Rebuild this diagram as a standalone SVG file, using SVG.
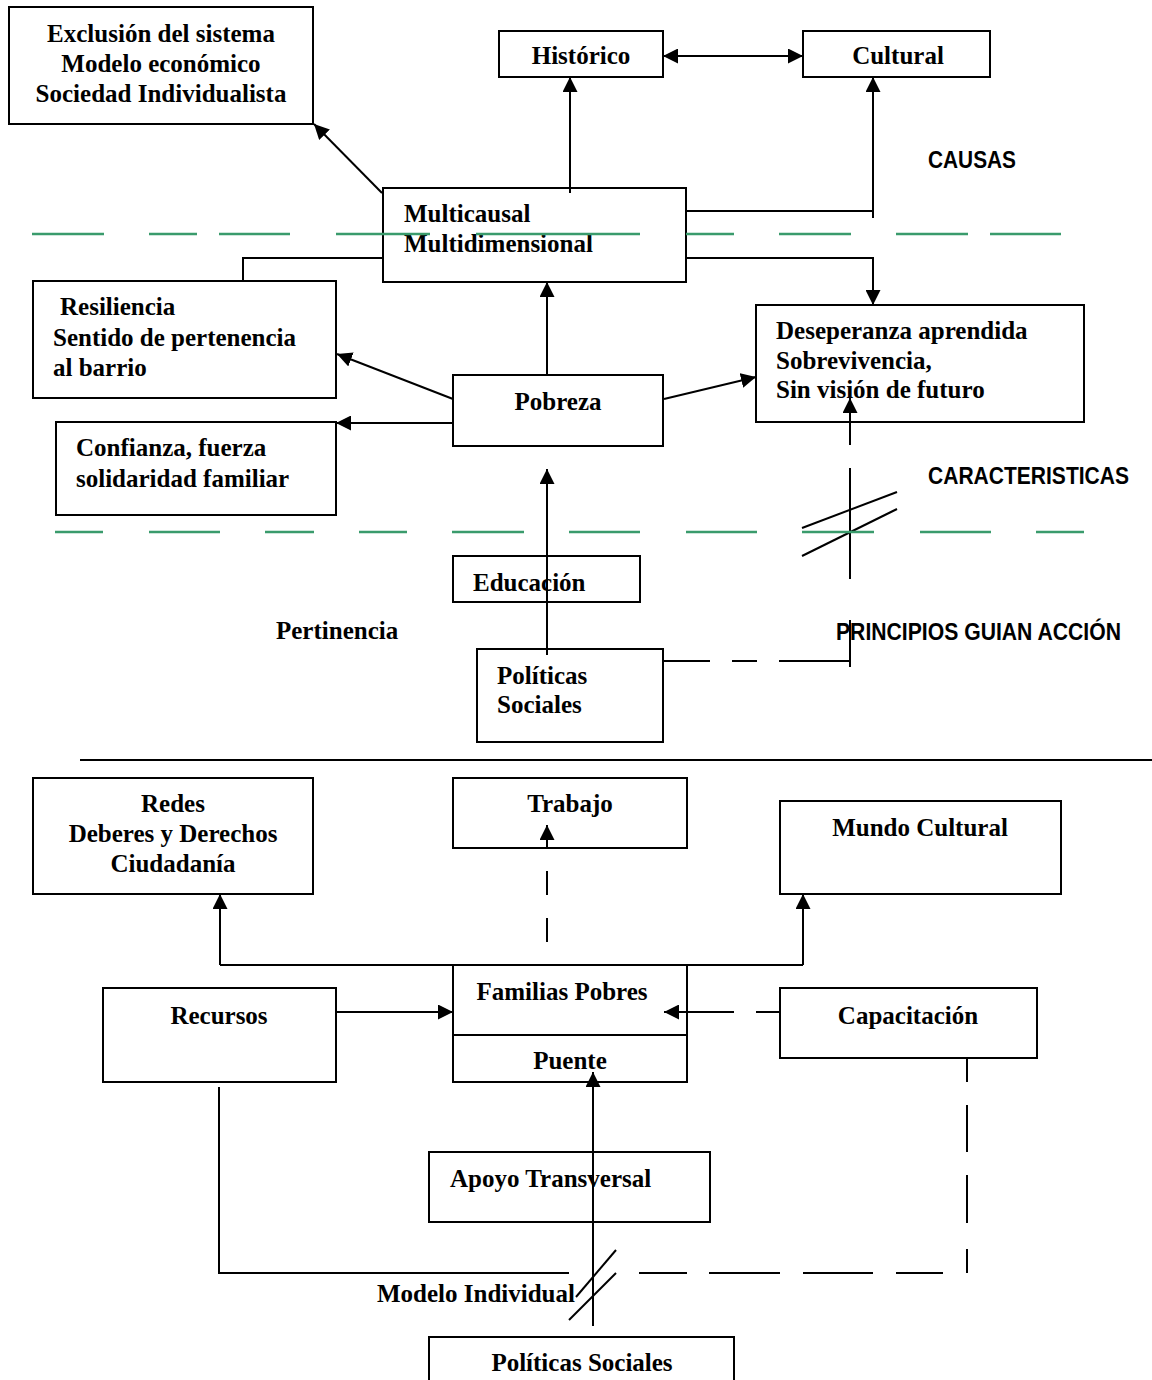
<svg xmlns="http://www.w3.org/2000/svg" width="1152" height="1380" viewBox="0 0 1152 1380">
<style>
.box{fill:#fff;stroke:#000;stroke-width:2}
.t{font-family:"Liberation Serif","Times New Roman",serif;font-weight:bold;font-size:25px;fill:#000}
.c{text-anchor:middle}
.s{font-family:"Liberation Sans",Arial,sans-serif;font-weight:bold;font-size:23px;fill:#000}
.ln{fill:none;stroke:#000;stroke-width:2}
.g{fill:none;stroke:#3a9b6c;stroke-width:2.5}
</style>
<defs>
<marker id="ah" markerUnits="userSpaceOnUse" markerWidth="15" markerHeight="15" refX="15" refY="7.5" orient="auto">
<path d="M0,0 L15,7.5 L0,15 z" fill="#000"/>
</marker>
<marker id="ahs" markerUnits="userSpaceOnUse" markerWidth="15" markerHeight="15" refX="0" refY="7.5" orient="auto">
<path d="M15,0 L0,7.5 L15,15 z" fill="#000"/>
</marker>
</defs>
<rect width="1152" height="1380" fill="#fff"/>

<g id="n-exclusion">
<rect class="box" x="9" y="7" width="304" height="117"/>
<text class="t c" x="161" y="42">Exclusión del sistema</text>
<text class="t c" x="161" y="72">Modelo económico</text>
<text class="t c" x="161" y="102">Sociedad Individualista</text>
</g>
<g id="n-historico">
<rect class="box" x="499" y="31" width="164" height="46"/>
<text class="t c" x="581" y="64">Histórico</text>
</g>
<g id="n-cultural">
<rect class="box" x="803" y="31" width="187" height="46"/>
<text class="t c" x="898" y="64">Cultural</text>
</g>
<g id="n-multicausal">
<rect class="box" x="383" y="188" width="303" height="94"/>
<text class="t" x="404" y="222">Multicausal</text>
<text class="t" x="404" y="252">Multidimensional</text>
</g>
<g id="n-resiliencia">
<rect class="box" x="33" y="281" width="303" height="117"/>
<text class="t" x="60" y="315">Resiliencia</text>
<text class="t" x="53" y="346">Sentido de pertenencia</text>
<text class="t" x="53" y="376">al barrio</text>
</g>
<g id="n-confianza">
<rect class="box" x="56" y="422" width="280" height="93"/>
<text class="t" x="76" y="456">Confianza, fuerza</text>
<text class="t" x="76" y="487">solidaridad familiar</text>
</g>
<g id="n-pobreza">
<rect class="box" x="453" y="375" width="210" height="71"/>
<text class="t c" x="558" y="410">Pobreza</text>
</g>
<g id="n-deseperanza">
<rect class="box" x="756" y="305" width="328" height="117"/>
<text class="t" x="776" y="339">Deseperanza aprendida</text>
<text class="t" x="776" y="369">Sobrevivencia,</text>
<text class="t" x="776" y="398">Sin visión de futuro</text>
</g>
<g id="n-educacion">
<rect class="box" x="453" y="556" width="187" height="46"/>
<text class="t" x="473" y="591">Educación</text>
</g>
<g id="n-politicas1">
<rect class="box" x="477" y="649" width="186" height="93"/>
<text class="t" x="497" y="684">Políticas</text>
<text class="t" x="497" y="713">Sociales</text>
</g>
<g id="labels">
<text class="s" x="928" y="168" textLength="88" lengthAdjust="spacingAndGlyphs">CAUSAS</text>
<text class="s" x="928" y="484" textLength="201" lengthAdjust="spacingAndGlyphs">CARACTERISTICAS</text>
<text class="s" x="836" y="640" textLength="285" lengthAdjust="spacingAndGlyphs">PRINCIPIOS GUIAN ACCIÓN</text>
<text class="t" x="276" y="639">Pertinencia</text>
<text class="t" x="377" y="1302">Modelo Individual</text>
</g>

<g id="n-redes">
<rect class="box" x="33" y="778" width="280" height="116"/>
<text class="t c" x="173" y="812">Redes</text>
<text class="t c" x="173" y="842">Deberes y Derechos</text>
<text class="t c" x="173" y="872">Ciudadanía</text>
</g>
<g id="n-trabajo">
<rect class="box" x="453" y="778" width="234" height="70"/>
<text class="t c" x="570" y="812">Trabajo</text>
</g>
<g id="n-mundo">
<rect class="box" x="780" y="801" width="281" height="93"/>
<text class="t c" x="920" y="836">Mundo Cultural</text>
</g>
<g id="n-recursos">
<rect class="box" x="103" y="988" width="233" height="94"/>
<text class="t c" x="219" y="1024">Recursos</text>
</g>
<g id="n-familias">
<rect class="box" x="453" y="965" width="234" height="70"/>
<text class="t c" x="562" y="1000">Familias Pobres</text>
</g>
<g id="n-puente">
<rect class="box" x="453" y="1035" width="234" height="47"/>
<text class="t c" x="570" y="1069">Puente</text>
</g>
<g id="n-capacitacion">
<rect class="box" x="780" y="988" width="257" height="70"/>
<text class="t c" x="908" y="1024">Capacitación</text>
</g>
<g id="n-apoyo">
<rect class="box" x="429" y="1152" width="281" height="70"/>
<text class="t" x="450" y="1187">Apoyo Transversal</text>
</g>
<g id="n-politicas2">
<rect class="box" x="429" y="1337" width="305" height="60"/>
<text class="t c" x="582" y="1371">Políticas Sociales</text>
</g>

<g id="connectors">
<!-- top -->
<line class="ln" x1="663" y1="56" x2="803" y2="56" marker-start="url(#ahs)" marker-end="url(#ah)"/>
<line class="ln" x1="570" y1="193" x2="570" y2="77" marker-end="url(#ah)"/>
<line class="ln" x1="382" y1="193" x2="314" y2="124" marker-end="url(#ah)"/>
<polyline class="ln" points="686,211 873,211"/>
<line class="ln" x1="873" y1="218" x2="873" y2="77" marker-end="url(#ah)"/>
<polyline class="ln" points="686,258 873,258 873,305" marker-end="url(#ah)"/>
<polyline class="ln" points="383,258 243,258 243,281"/>
<!-- middle -->
<line class="ln" x1="547" y1="375" x2="547" y2="282" marker-end="url(#ah)"/>
<line class="ln" x1="453" y1="399" x2="337" y2="354" marker-end="url(#ah)"/>
<line class="ln" x1="453" y1="423" x2="336" y2="423" marker-end="url(#ah)"/>
<line class="ln" x1="664" y1="399" x2="756" y2="377" marker-end="url(#ah)"/>
<line class="ln" x1="850" y1="445" x2="850" y2="398" marker-end="url(#ah)"/>
<line class="ln" x1="850" y1="468" x2="850" y2="579"/>
<line class="ln" x1="850" y1="620" x2="850" y2="667"/>
<line class="ln" x1="802" y1="528" x2="897" y2="492"/>
<line class="ln" x1="802" y1="556" x2="897" y2="509"/>
<line class="ln" x1="547" y1="655" x2="547" y2="469" marker-end="url(#ah)"/>
<line class="ln" x1="663" y1="661" x2="710" y2="661"/>
<line class="ln" x1="732" y1="661" x2="757" y2="661"/>
<line class="ln" x1="779" y1="661" x2="850" y2="661"/>
<line class="ln" x1="80" y1="760" x2="1152" y2="760"/>
<!-- bottom -->
<polyline class="ln" points="220,965 803,965"/>
<line class="ln" x1="220" y1="965" x2="220" y2="894" marker-end="url(#ah)"/>
<line class="ln" x1="803" y1="965" x2="803" y2="894" marker-end="url(#ah)"/>
<line class="ln" x1="547" y1="848" x2="547" y2="825" marker-end="url(#ah)"/>
<line class="ln" x1="547" y1="871" x2="547" y2="895"/>
<line class="ln" x1="547" y1="918" x2="547" y2="942"/>
<line class="ln" x1="336" y1="1012" x2="453" y2="1012" marker-end="url(#ah)"/>
<line class="ln" x1="780" y1="1012" x2="756" y2="1012"/>
<line class="ln" x1="734" y1="1012" x2="664" y2="1012" marker-end="url(#ah)"/>
<polyline class="ln" points="219,1087 219,1273 569,1273"/>
<line class="ln" x1="639" y1="1273" x2="687" y2="1273"/>
<line class="ln" x1="709" y1="1273" x2="780" y2="1273"/>
<line class="ln" x1="803" y1="1273" x2="873" y2="1273"/>
<line class="ln" x1="896" y1="1273" x2="943" y2="1273"/>
<line class="ln" x1="967" y1="1059" x2="967" y2="1082"/>
<line class="ln" x1="967" y1="1105" x2="967" y2="1152"/>
<line class="ln" x1="967" y1="1175" x2="967" y2="1223"/>
<line class="ln" x1="967" y1="1249" x2="967" y2="1273"/>
<line class="ln" x1="593" y1="1326" x2="593" y2="1072" marker-end="url(#ah)"/>
<line class="ln" x1="576" y1="1297" x2="616" y2="1250"/>
<line class="ln" x1="569" y1="1320" x2="616" y2="1273"/>
</g>

<g id="dividers">
<line class="g" x1="32" y1="234" x2="104" y2="234"/>
<line class="g" x1="149" y1="234" x2="197" y2="234"/>
<line class="g" x1="219" y1="234" x2="290" y2="234"/>
<line class="g" x1="336" y1="234" x2="430" y2="234"/>
<line class="g" x1="476" y1="234" x2="640" y2="234"/>
<line class="g" x1="686" y1="234" x2="734" y2="234"/>
<line class="g" x1="779" y1="234" x2="851" y2="234"/>
<line class="g" x1="896" y1="234" x2="968" y2="234"/>
<line class="g" x1="990" y1="234" x2="1061" y2="234"/>
<line class="g" x1="55" y1="532" x2="103" y2="532"/>
<line class="g" x1="149" y1="532" x2="220" y2="532"/>
<line class="g" x1="265" y1="532" x2="314" y2="532"/>
<line class="g" x1="359" y1="532" x2="407" y2="532"/>
<line class="g" x1="452" y1="532" x2="524" y2="532"/>
<line class="g" x1="569" y1="532" x2="640" y2="532"/>
<line class="g" x1="686" y1="532" x2="757" y2="532"/>
<line class="g" x1="802" y1="532" x2="874" y2="532"/>
<line class="g" x1="920" y1="532" x2="991" y2="532"/>
<line class="g" x1="1036" y1="532" x2="1084" y2="532"/>
</g>
</svg>
